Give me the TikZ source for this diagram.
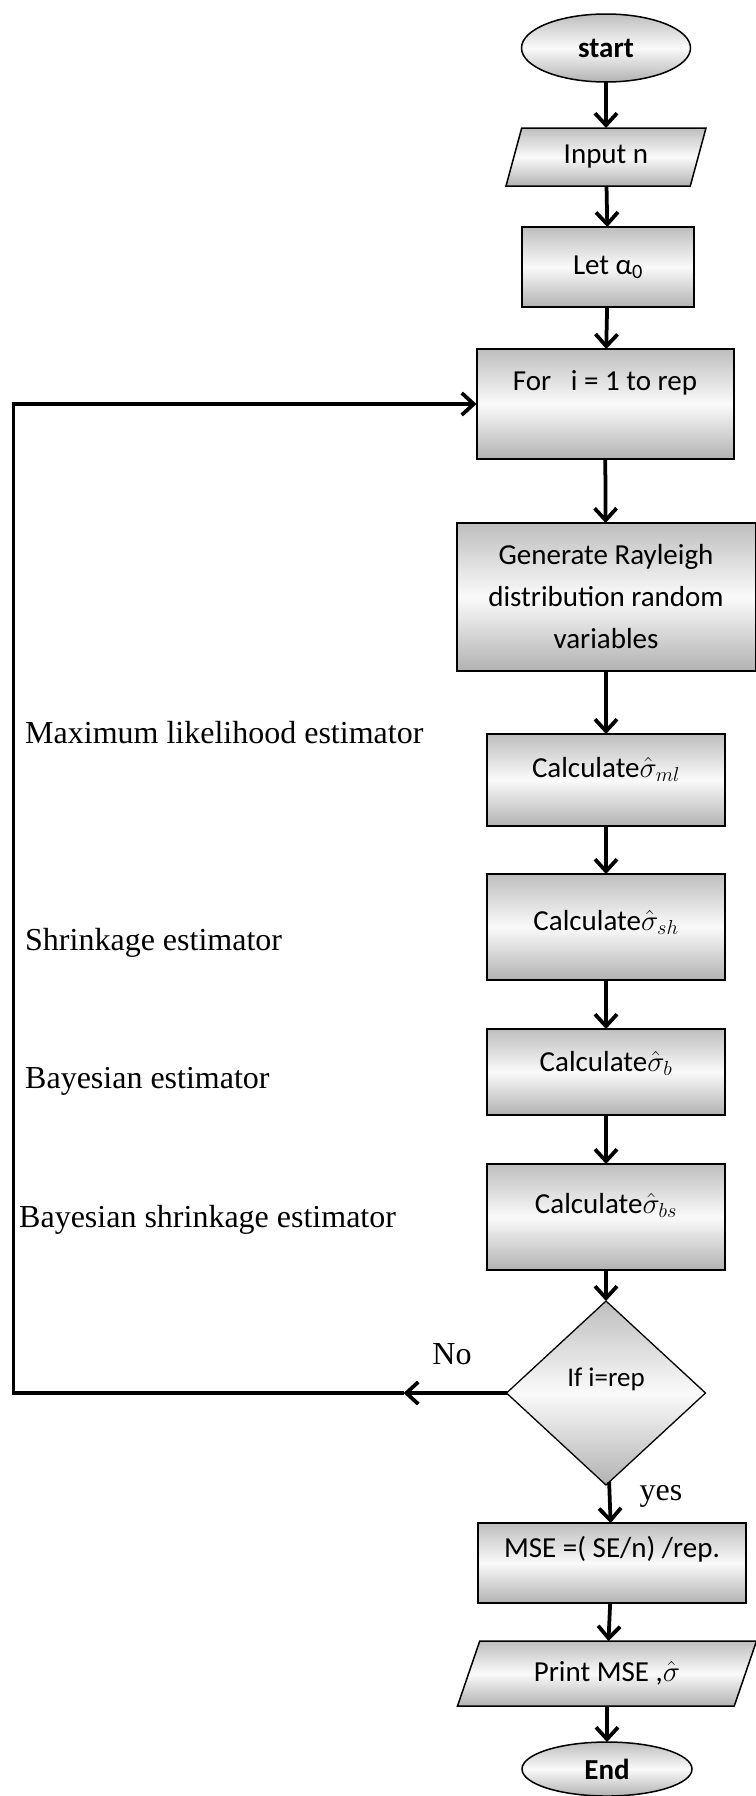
\documentclass[tikz,border=0pt]{standalone}
\usepackage{fix-cm}
\usepackage{fontspec}
\setmainfont{Carlito}
\newfontfamily\notefont{Liberation Serif}
\usetikzlibrary{positioning,arrows.meta,shapes.geometric}
\definecolor{shadeTop}{HTML}{BEBEBE}
\definecolor{shadeMid}{HTML}{FAFAFA}
\definecolor{shadeBot}{HTML}{B2B2B2}
\tikzset{
    gradfill/.style={top color=shadeTop,bottom color=shadeBot,middle color=shadeMid},
    procbox/.style={gradfill,draw=black,line width=2pt,rectangle,inner sep=0pt,outer sep=0pt,
        align=center,font=\fontsize{29}{42}\selectfont},
    terminal/.style={gradfill,draw=black,line width=1.5pt,ellipse,inner sep=0pt,outer sep=0pt,
        minimum width=169pt,font=\fontsize{29}{35}\selectfont\bfseries},
    iobox/.style={gradfill,draw=black,line width=1.5pt,trapezium,trapezium stretches body,
        inner sep=0pt,outer sep=0pt,font=\fontsize{29}{35}\selectfont},
    decision/.style={gradfill,draw=black,line width=1.3pt,diamond,inner sep=0pt,outer sep=0pt,
        font=\fontsize{27}{32}\selectfont},
    lift/.style={text height=22pt,text depth=#1},
    arrow/.style={-{Straight Barb[length=12pt,width=22pt]},draw=black,line width=3.75pt},
    note/.style={font=\notefont\fontsize{32}{38}\selectfont,inner sep=0pt}
}
\begin{document}
\begin{tikzpicture}[x=1pt,y=-1pt]
    \useasboundingbox (0,0) rectangle (755,1796);
    \node[terminal,minimum height=68pt] (start) at (606,48) {start};
    \node[iobox,trapezium left angle=56,trapezium right angle=124,minimum width=200pt,minimum height=58pt] (input) [below=46pt of start] {Input n};
    \node[procbox,minimum width=172pt,minimum height=80pt] (let) [below=41pt of input,xshift=2pt] {Let α\textsubscript{0}};
    \node[procbox,minimum width=257pt,minimum height=110pt,lift=50pt] (for) [below=42pt of let,xshift=-3pt] {For\ \ \ i = 1 to rep};
    \node[procbox,minimum width=299pt,minimum height=148pt] (gen) [below=64pt of for,xshift=1pt] {Generate Rayleigh\\distribution random\\variables};
    \node[procbox,minimum width=238pt,minimum height=92pt,lift=28pt] (ml) [below=63pt of gen] {Calculate$\hat{\sigma}_{ml}$};
    \node[procbox,minimum width=238pt,minimum height=106pt,lift=16pt] (sh) [below=48pt of ml] {Calculate$\hat{\sigma}_{sh}$};
    \node[procbox,minimum width=238pt,minimum height=86pt,lift=24pt] (bay) [below=49pt of sh] {Calculate$\hat{\sigma}_{b}$};
    \node[procbox,minimum width=238pt,minimum height=106pt,lift=30pt] (bs) [below=49pt of bay] {Calculate$\hat{\sigma}_{bs}$};
    \node[decision,minimum width=199pt,minimum height=184pt,lift=36pt] (dec) [below=31pt of bs] {If i=rep};
    \node[procbox,minimum width=268pt,minimum height=80pt,lift=34pt] (mse) [below=38pt of dec,xshift=6pt] {MSE =( SE/n) /rep.};
    \node[iobox,trapezium left angle=47,trapezium right angle=133,minimum width=299pt,minimum height=65pt] (print) [below=38pt of mse,xshift=-5pt] {Print MSE ,$\hat{\sigma}$};
    \node[terminal,minimum width=170pt,minimum height=54pt] (end) [below=36pt of print] {End};
    \node[note,anchor=base west] (mllabel) at (25,743) {Maximum likelihood estimator};
    \node[note,anchor=base west] (shlabel) at (25,950) {Shrinkage estimator};
    \node[note,anchor=base west] (blabel) at (25,1088) {Bayesian estimator};
    \node[note,anchor=base west] (bslabel) at (19,1227) {Bayesian shrinkage estimator};
    \node[note,anchor=base] (nolabel) at (452,1364) {No};
    \node[note,anchor=base] (yeslabel) at (661,1500) {yes};
    \coordinate (nomid) at ([xshift=-103pt]dec.west);
    \coordinate (loopcorner) at ([xshift=-493pt]dec.west);
    \draw[arrow] (start) -- (input);
    \draw[arrow] (input) -- (let);
    \draw[arrow] (let) -- (for);
    \draw[arrow] (for) -- (gen);
    \draw[arrow] (gen) -- (ml);
    \draw[arrow] (ml) -- (sh);
    \draw[arrow] (sh) -- (bay);
    \draw[arrow] (bay) -- (bs);
    \draw[arrow] (bs) -- (dec);
    \draw[arrow] (dec) -- (mse);
    \draw[arrow] (mse) -- (print);
    \draw[arrow] (print) -- (end);
    \draw[arrow] (dec.west) -- (nomid);
    \draw[arrow] (nomid) -- (loopcorner) |- (for.west);
\end{tikzpicture}
\end{document}
